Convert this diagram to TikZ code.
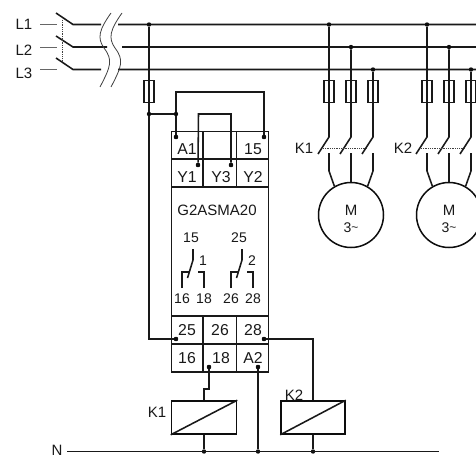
\documentclass[tikz,border=0pt]{standalone}
\usepackage{fontspec}
\setmainfont{Liberation Sans}
\begin{document}
\begin{tikzpicture}[x=1pt,y=-1pt,
  wire/.style={line width=1.55pt,draw=black!90},
  thin wire/.style={line width=0.9pt,draw=black!60},
  linkline/.style={line width=0.8pt,densely dotted,draw=black!75},
  fuse/.style={draw=black!90,line width=1.5pt,minimum width=10pt,minimum height=22pt,inner sep=0pt},
  coil/.style={draw=black!95,line width=1.6pt,inner sep=0pt,minimum height=33pt,fill=white},
  motor/.style={draw=black!95,line width=1.5pt,circle,minimum size=65pt,inner sep=0pt},
  dot/.style={circle,fill=black!95,minimum size=4.4pt,inner sep=0pt},
  lab/.style={inner sep=0pt,text=black!90,font=\fontsize{15}{15}\selectfont},
  tlab/.style={inner sep=0pt,text=black!90,font=\fontsize{15.8}{16}\selectfont},
  slab/.style={inner sep=0pt,text=black!90,font=\fontsize{14}{14}\selectfont}]
\useasboundingbox (0,0) rectangle (476,460);
\clip (0,0) rectangle (476,460);
\fill[white] (0,0) rectangle (476,460);

% mains
\node[lab] (tL1) at (24,24) {L1};
\node[lab] (tL2) at (24,50) {L2};
\node[lab] (tL3) at (24,73) {L3};
\node[lab] (tN) at (57,450) {N};
\coordinate (cL1) at (73,24.5); \coordinate (cL2) at (73,47); \coordinate (cL3) at (73,69.5);
\coordinate (oL1) at (56,13); \coordinate (oL2) at (56,36); \coordinate (oL3) at (56,58);
\coordinate (gL1) at (101,24.5); \coordinate (gL2) at (107,47); \coordinate (gL3) at (101,69.5);
\coordinate (hL1) at (118,24.5); \coordinate (hL2) at (122,47); \coordinate (hL3) at (118,69.5);
\coordinate (eL1) at (476,24.5); \coordinate (eL2) at (476,47); \coordinate (eL3) at (476,69.5);
\draw[wire] (oL1)--(cL1)--(gL1) (hL1)--(eL1);
\draw[wire] (oL2)--(cL2)--(gL2) (hL2)--(eL2);
\draw[wire] (oL3)--(cL3)--(gL3) (hL3)--(eL3);
\draw[thin wire] (40,24.5)--(57,24.5) (40,47)--(57,47) (40,69.5)--(57,69.5);
\draw[linkline] (62,20)--(62,62);
\draw[line width=0.8pt,draw=black!75] (122,13) .. controls (110,30) and (108,38) .. (115,48) .. controls (124,60) and (122,66) .. (111,87);
\draw[line width=0.8pt,draw=black!75] (111,13) .. controls (99,30) and (97,38) .. (104,48) .. controls (113,60) and (111,66) .. (100,87);

% feed and fuse
\node[dot] (d0) at (149,24.5) {};
\node[dot] (d1) at (149,114) {};
\node[dot] (d2) at (176,114) {};
\node[fuse] (F0) at (149,91.5) {};
\node[dot] (pA1) at (176,137) {};
\node[dot] (p15) at (264,137) {};
\node[dot] (pY1) at (198,165) {};
\node[dot] (pY3) at (231,165) {};
\node[dot] (p25) at (176,339) {};
\node[dot] (p28) at (264,339) {};
\node[dot] (p18) at (209,367) {};
\node[dot] (pA2) at (258,367) {};
\node[dot] (nA) at (204,451.5) {};
\node[dot] (nB) at (258,451.5) {};
\node[dot] (nC) at (313,451.5) {};
\coordinate (nS) at (67,451.5); \coordinate (nE) at (439,451.5);
\draw[wire] (nS)--(nE);
\draw[wire] (d0)--(d1);
\draw[wire] (d1)--(d2);
\draw[wire] (d1)--(149,339)--(p25);
\draw[wire] (d2)--(pA1);
\draw[wire] (d2)--(176,92)--(264,92)--(p15);
\draw[wire] (pY1)--(198.5,114)--(231,114)--(pY3);

% relay body
\draw[wire] (171.5,131.5) rectangle (268.5,372);
\draw[wire] (171.5,159)--(268.5,159) (171.5,344)--(268.5,344);
\draw[wire] (203,131.5)--(203,187) (236.5,131.5)--(236.5,187);
\draw[wire] (203,316)--(203,372) (236.5,316)--(236.5,372);
\draw[line width=2.2pt,draw=black!90] (171.5,187)--(268.5,187) (171.5,316)--(268.5,316);
\node[dot] at (pA1) {}; \node[dot] at (p15) {}; \node[dot] at (pY1) {}; \node[dot] at (pY3) {};
\node[dot] at (p25) {}; \node[dot] at (p28) {}; \node[dot] at (p18) {}; \node[dot] at (pA2) {};

\node[tlab] (tA1) at (187,149) {A1};
\node[tlab] (t15) at (253,149) {15};
\node[tlab] (tY1) at (187,177) {Y1};
\node[tlab] (tY3) at (221,177) {Y3};
\node[tlab] (tY2) at (253,177) {Y2};
\node[lab] (tG) at (217,210) {G2ASMA20};
\node[tlab] (t25) at (187,330) {25};
\node[tlab] (t26) at (220,330) {26};
\node[tlab] (t28) at (253,330) {28};
\node[tlab] (t16) at (187,358) {16};
\node[tlab] (t18) at (221,358) {18};
\node[tlab] (tA2) at (253,358) {A2};

% contacts
\node[slab] (c15) at (191,238) {15};
\node[slab] (c25) at (239,238) {25};
\node[slab] (c1) at (203,261) {1};
\node[slab] (c2) at (252,261) {2};
\node[slab] (c16) at (182,299) {16};
\node[slab] (c18) at (204,299) {18};
\node[slab] (c26) at (231,299) {26};
\node[slab] (c28) at (253,299) {28};
\draw[wire] (193,249)--(193,260)--(187.5,278);
\draw[wire] (182,288)--(182,272)--(189,272);
\draw[wire] (204,288)--(204,272)--(198,272);
\draw[wire] (242,249)--(242,260)--(236.5,278);
\draw[wire] (231,288)--(231,272)--(238,272);
\draw[wire] (253,288)--(253,272)--(247,272);

% coils
\node[coil,minimum width=65pt] (K1c) at (204,417.5) {};
\node[coil,minimum width=64pt] (K2c) at (313,417.5) {};
\draw[wire] (K1c.south west)--(K1c.north east);
\draw[wire] (K2c.south west)--(K2c.north east);
\node[lab] (tK1c) at (157,412) {K1};
\node[lab] (tK2c) at (294,395) {K2};
\draw[wire] (p18)--(209,389)--(204,389)--(K1c.north);
\draw[wire] (K1c.south)--(nA);
\draw[wire] (pA2)--(nB);
\draw[wire] (p28)--(313,339)--(K2c.north);
\draw[wire] (K2c.south)--(nC);

% motors
\foreach \id/\ax/\bx/\cx in {A/329/351/373,B/427/449/471}{
  \node[dot] (da\id) at (\ax,24.5) {};
  \node[dot] (db\id) at (\bx,47) {};
  \node[dot] (dc\id) at (\cx,69.5) {};
  \node[fuse] (fa\id) at (\ax,91.5) {};
  \node[fuse] (fb\id) at (\bx,91.5) {};
  \node[fuse] (fc\id) at (\cx,91.5) {};
  \node[motor] (m\id) at (\bx,215) {};
  \node[lab] (tm\id) at (\bx,210) {M};
  \node[slab] (tn\id) at (\bx,228) {3\raisebox{1pt}{\fontsize{12}{12}\selectfont\textasciitilde}};
  \draw[wire] (da\id)--(\ax,137)--(\ax-11,154);
  \draw[wire] (db\id)--(\bx,137)--(\bx-11,154);
  \draw[wire] (dc\id)--(\cx,137)--(\cx-11,154);
  \draw[wire] (\ax,153)--(\ax,171)--(m\id.120);
  \draw[wire] (\bx,153)--(m\id.north);
  \draw[wire] (\cx,153)--(\cx,171)--(m\id.60);
  \draw[linkline] (\ax-6,148)--(\cx-6,148);
}
\node[lab] (tK1) at (304,148) {K1};
\node[lab] (tK2) at (403,148) {K2};
\end{tikzpicture}
\end{document}
